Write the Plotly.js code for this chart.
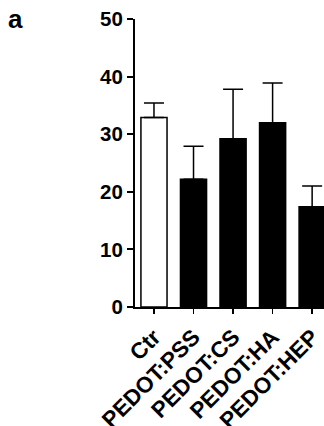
<!DOCTYPE html>
<html>
<head>
<meta charset="utf-8">
<script src="https://cdn.plot.ly/plotly-3.0.1.min.js"></script>
<style>
  html, body { margin: 0; padding: 0; background: #fff; }
  #chart { width: 324px; height: 426px; }
</style>
</head>
<body>
<div id="chart"></div>
<script>
// Group labels along the x axis
const categories = ['Ctr', 'PEDOT:PSS', 'PEDOT:CS', 'PEDOT:HA', 'PEDOT:HEP'];
// Mean values for each group
const means = [32.9, 22.2, 29.2, 32.0, 17.4];
// Upper error (SD) for each group
const errors = [2.5, 5.7, 8.6, 6.9, 3.6];
// Fill colours: control open, treatments solid
const fills = ['#ffffff', '#000000', '#000000', '#000000', '#000000'];
// Y axis tick values
const yTicks = [0, 10, 20, 30, 40, 50];

const fontFamily = 'Liberation Sans, Arial, sans-serif';

const trace = {
  type: 'bar',
  x: categories,
  y: means,
  width: 0.66,
  marker: { color: fills, line: { color: '#000', width: 1.5 } },
  error_y: {
    type: 'data',
    symmetric: false,
    array: errors,
    arrayminus: errors.map(() => 0),
    color: '#000',
    thickness: 1.5,
    width: 10
  },
  hoverinfo: 'none'
};

const layout = {
  width: 324,
  height: 426,
  margin: { l: 135, r: 0, t: 19, b: 119 },
  paper_bgcolor: '#fff',
  plot_bgcolor: '#fff',
  showlegend: false,
  xaxis: {
    type: 'category',
    range: [-0.48, 4.30],
    showline: true,
    linecolor: '#000',
    linewidth: 2,
    ticks: 'outside',
    ticklen: 5,
    tickwidth: 1.5,
    tickcolor: '#000',
    tickangle: -45,
    ticklabelstandoff: 1,
    tickfont: { family: fontFamily, size: 22.5, color: '#000', weight: 'bold' },
    showgrid: false,
    zeroline: false,
    fixedrange: true
  },
  yaxis: {
    range: [0, 50],
    tickvals: yTicks,
    ticktext: yTicks.map(String),
    showline: true,
    linecolor: '#000',
    linewidth: 2,
    ticks: 'outside',
    ticklen: 6,
    tickwidth: 2,
    tickcolor: '#000',
    tickfont: { family: fontFamily, size: 20.5, color: '#000', weight: 'bold' },
    showgrid: false,
    zeroline: false,
    fixedrange: true
  },
  annotations: [{
    text: 'a',
    xref: 'paper', yref: 'paper',
    x: -0.68, y: 1.0,
    xanchor: 'left', yanchor: 'middle',
    showarrow: false,
    font: { family: fontFamily, size: 26, color: '#000', weight: 'bold' }
  }]
};

Plotly.newPlot('chart', [trace], layout, { displayModeBar: false, staticPlot: true });
</script>
</body>
</html>
